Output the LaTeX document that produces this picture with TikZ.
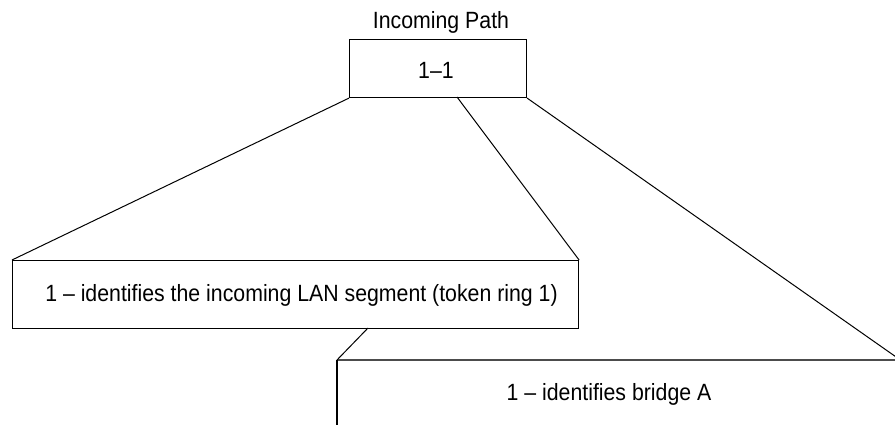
\documentclass[tikz,border=0pt]{standalone}
\usepackage{fontspec}
\setmainfont{Liberation Sans}[FakeStretch=0.906]
\begin{document}
\begin{tikzpicture}[x=1pt,y=-1pt,
  box/.style={draw=black, line width=1.1pt, inner sep=0pt, anchor=north west},
  frame/.style={inner sep=0pt, anchor=north west},
  lbl/.style={inner sep=0pt, anchor=base, font=\fontsize{23.5}{28}\selectfont},
  link/.style={draw=black, line width=1pt}]
\useasboundingbox (0,0) rectangle (895,425);
\clip (0,0) rectangle (895,425);

% boxes
\node[box, minimum width=177pt, minimum height=58pt] (path) at (349,39) {};
\node[box, minimum width=566pt, minimum height=68pt] (lan) at (12,260) {};
\node[frame, minimum width=563pt, minimum height=80pt] (bridge) at (337,360) {};
\draw[draw=black!70, line width=2pt] (bridge.north west) -- (bridge.north east);
\draw[draw=black, line width=1.4pt] (bridge.north west) -- (bridge.south west);

% texts
\node[lbl] (title) at (441,28.3) {Incoming Path};
\node[lbl] (pathtext) at (436,78.3) {1–1};
\node[lbl] (lantext) at (301.5,301) {1 – identifies the incoming LAN segment (token ring 1)};
\node[lbl] (bridgetext) at (609,400.7) {1 – identifies bridge A};

% expansion lines
\coordinate (split) at (457,97);
\coordinate (drop) at (368,328);
\draw[link] (path.south west) -- (lan.north west);
\draw[link] (split) -- (lan.north east);
\draw[link] (path.south east) -- (bridge.north east);
\draw[link] (drop) -- (bridge.north west);
\end{tikzpicture}
\end{document}
